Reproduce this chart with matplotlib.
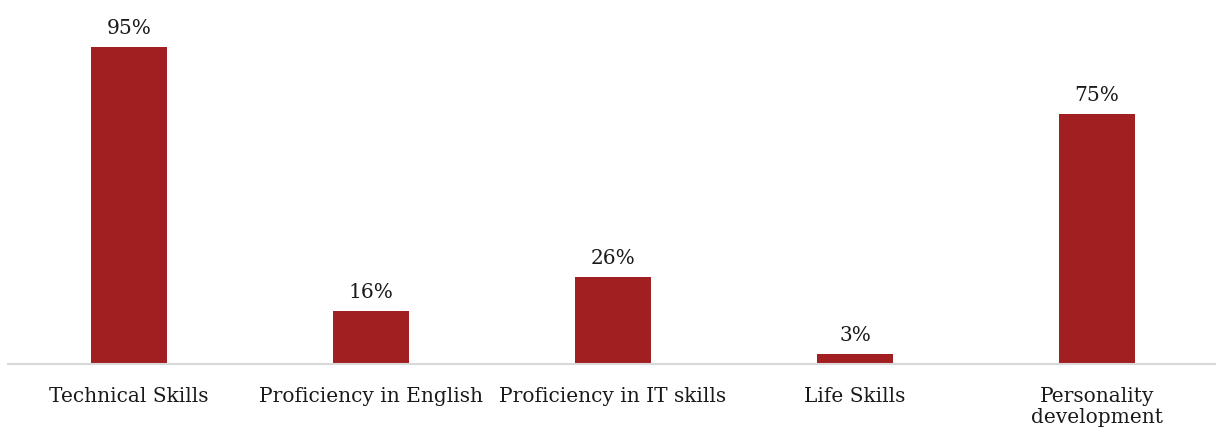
import matplotlib.pyplot as plt

categories = ['Technical Skills', 'Proficiency in English', 'Proficiency in IT skills',
              'Life Skills', 'Personality\ndevelopment']
values = [95, 16, 26, 3, 75]

plt.rcParams['font.family'] = ['DejaVu Serif']

fig = plt.figure(figsize=(12.16, 4.35), dpi=100)
ax = fig.add_axes([8 / 1216, 70 / 435, 1210 / 1216, 365 / 435])

x = range(len(categories))
bars = ax.bar(x, values, width=0.314, color='#A11E21')

for rect, v in zip(bars, values):
    ax.text(rect.get_x() + rect.get_width() / 2, v + 3.0, f'{v}%',
            ha='center', va='bottom', fontsize=14.5, color='#1a1a1a')

ax.set_xlim(-0.5, 4.5)
ax.set_ylim(0, 109.5)
ax.set_xticks(list(x))
ax.set_xticklabels(categories, fontsize=14.5, color='#1a1a1a', linespacing=1.1)
ax.tick_params(axis='x', length=0, pad=16)
ax.set_yticks([])

for side in ['top', 'right', 'left']:
    ax.spines[side].set_visible(False)
ax.spines['bottom'].set_color('#D9D9D9')
ax.spines['bottom'].set_linewidth(1.5)

fig.savefig('out.png', dpi=100)
